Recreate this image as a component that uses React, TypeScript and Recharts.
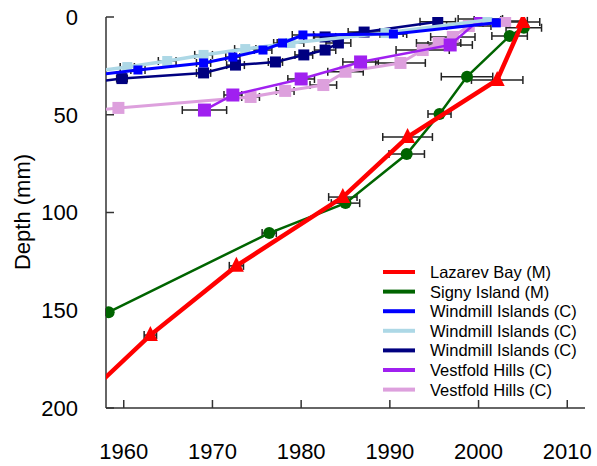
import { ScatterChart, Scatter, XAxis, YAxis, ErrorBar } from 'recharts'

const W = 597
const H = 466

// Lazarev Bay (M)
const lazarevYear = [1955, 1963.0, 1972.7, 1984.7, 1992.0, 2002.1, 2005.0]
const lazarevDepth = [197, 162.7, 127.3, 92.1, 61.4, 32.2, 2.5]
const lazarevErr = [0, 0.7, 0.8, 1.6, 2.8, 2.9, 1.9]

// Signy Island (M)
const signyYear = [1958.3, 1976.4, 1985.0, 1991.9, 1995.6, 1998.7, 2003.5, 2005.1]
const signyDepth = [151, 110.5, 95.2, 70.1, 49.6, 30.5, 9.7, 5.5]
const signyErr = [0.3, 0.8, 1.6, 2.0, 1.3, 2.9, 2.0, 2.0]

// Windmill Islands (C) - blue
const wiBlueYear = [1957, 1961.6, 1969.0, 1972.3, 1975.7, 1977.9, 1980.2, 1990.4, 2002.0]
const wiBlueDepth = [29.5, 27.1, 23.5, 20.5, 16.9, 13.3, 9.2, 8.7, 3.0]
const wiBlueErr = [0, 0.8, 0.8, 0.8, 1.0, 1.0, 1.2, 1.5, 1.5]

// Windmill Islands (C) - light blue
const wiLightYear = [1957, 1960.4, 1964.9, 1969.0, 1973.7, 1978.8, 1989.5, 2001.0]
const wiLightDepth = [27.5, 25.6, 22.5, 19.4, 16.4, 13.3, 8.2, 1.5]
const wiLightErr = [0, 0.8, 1.0, 1.0, 1.2, 1.5, 2.0, 1.5]

// Windmill Islands (C) - navy
const wiNavyYear = [1956, 1959.8, 1969.0, 1972.6, 1977.1, 1980.3, 1982.7, 1984.2, 1982.7, 1987.1, 1995.4]
const wiNavyDepth = [33.5, 31.5, 28.6, 24.6, 23.0, 19.4, 16.9, 13.3, 10.2, 7.7, 2.4]
const wiNavyErr = [0, 0.6, 0.8, 1.0, 0.8, 1.0, 1.2, 1.4, 1.2, 1.8, 2.0]

// Vestfold Hills (C) - purple
const vhPurpleYear = [1969.1, 1972.3, 1980.0, 1986.7, 1996.8, 2000.2]
const vhPurpleDepth = [47.6, 39.9, 31.7, 23.0, 14.3, 1.0]
const vhPurpleErr = [2.5, 1.0, 1.5, 2.0, 2.5, 2.5]

// Vestfold Hills (C) - plum
const vhPlumYear = [1955, 1959.4, 1974.3, 1978.2, 1982.5, 1985.0, 1991.2, 1993.7, 1995.5, 1997.1, 1998.9, 2003.0]
const vhPlumDepth = [48.5, 46.5, 40.9, 37.8, 34.8, 28.0, 23.5, 16.9, 13.3, 10.2, 4.6, 2.0]
const vhPlumErr = [0, 0.5, 1.0, 1.0, 1.5, 2.0, 2.8, 3.0, 2.5, 2.5, 2.5, 2.5]

const seriesNames = [
  'Lazarev Bay (M)',
  'Signy Island (M)',
  'Windmill Islands (C)',
  'Windmill Islands (C)',
  'Windmill Islands (C)',
  'Vestfold Hills (C)',
  'Vestfold Hills (C)',
]
const seriesColors = ['#ff0000', '#006400', '#0000ff', '#add8e6', '#000080', '#a020f0', '#dda0dd']

const xTicks = [1960, 1970, 1980, 1990, 2000, 2010]
const yTicks = [0, 50, 100, 150, 200]

const zip = (xs: number[], ys: number[], es: number[]) =>
  xs.map((x, i) => ({ x, y: ys[i], e: es[i] }))

const square = (size: number, fill: string) => (p: any) =>
  <rect x={p.cx - size / 2} y={p.cy - size / 2} width={size} height={size} fill={fill} />

const circle = (r: number, fill: string) => (p: any) => <circle cx={p.cx} cy={p.cy} r={r} fill={fill} />

const triangle = (s: number, fill: string) => (p: any) =>
  <polygon
    points={`${p.cx},${p.cy - s * 0.6} ${p.cx - s / 2},${p.cy + s * 0.4} ${p.cx + s / 2},${p.cy + s * 0.4}`}
    fill={fill}
  />

const AXIS = '#333'
const BAR = '#222'

export default function App() {
  const series = [
    { data: zip(vhPlumYear, vhPlumDepth, vhPlumErr), c: seriesColors[6], w: 3, shape: square(12, seriesColors[6]) },
    { data: zip(vhPurpleYear, vhPurpleDepth, vhPurpleErr), c: seriesColors[5], w: 2.5, shape: square(13, seriesColors[5]) },
    { data: zip(wiNavyYear, wiNavyDepth, wiNavyErr), c: seriesColors[4], w: 2.5, shape: square(11, seriesColors[4]) },
    { data: zip(wiLightYear, wiLightDepth, wiLightErr), c: seriesColors[3], w: 3.5, shape: square(10, seriesColors[3]) },
    { data: zip(wiBlueYear, wiBlueDepth, wiBlueErr), c: seriesColors[2], w: 3, shape: square(9, seriesColors[2]) },
    { data: zip(signyYear, signyDepth, signyErr), c: seriesColors[1], w: 2.5, shape: circle(6, seriesColors[1]) },
    { data: zip(lazarevYear, lazarevDepth, lazarevErr), c: seriesColors[0], w: 4.5, shape: triangle(15, seriesColors[0]) },
  ]

  return (
    <div style={{ position: 'absolute', left: 0, top: 0, width: W, height: H, background: '#fff' }}>
      <ScatterChart
        width={W}
        height={H}
        margin={{ top: 17, right: 12, bottom: 0, left: 0 }}
        style={{ fontFamily: '"Liberation Sans", Arial, sans-serif' }}
      >
        <XAxis
          dataKey="x"
          type="number"
          domain={[1958, 2012]}
          ticks={xTicks}
          allowDataOverflow
          height={58}
          tickSize={-8}
          tickMargin={43}
          tick={{ fill: '#000', fontSize: 22 }}
          axisLine={{ stroke: AXIS, strokeWidth: 1.5 }}
          tickLine={{ stroke: AXIS, strokeWidth: 1.5 }}
        />
        <XAxis
          xAxisId="top"
          orientation="top"
          type="number"
          domain={[0, 1]}
          height={0}
          tick={false}
          tickLine={false}
          axisLine={{ stroke: AXIS, strokeWidth: 1.5 }}
        />
        <YAxis
          dataKey="y"
          type="number"
          reversed
          domain={[0, 200]}
          ticks={yTicks}
          allowDataOverflow
          width={106}
          tickSize={-8}
          tickMargin={36}
          tick={{ fill: '#000', fontSize: 22 }}
          axisLine={{ stroke: AXIS, strokeWidth: 1.5 }}
          tickLine={{ stroke: AXIS, strokeWidth: 1.5 }}
        />
        <YAxis
          yAxisId="right"
          orientation="right"
          type="number"
          domain={[0, 1]}
          width={0}
          tick={false}
          tickLine={false}
          axisLine={{ stroke: AXIS, strokeWidth: 1.5 }}
        />
        {series.map((s, i) => (
          <Scatter
            key={i}
            data={s.data}
            fill={s.c}
            line={{ stroke: s.c, strokeWidth: s.w }}
            lineJointType="linear"
            shape={s.shape}
            isAnimationActive={false}
          >
            <ErrorBar dataKey="e" direction="x" width={4} stroke={BAR} strokeWidth={1.5} />
          </Scatter>
        ))}
        <text
          x={22}
          y={212}
          transform="rotate(-90 22 212)"
          textAnchor="middle"
          dominantBaseline="central"
          fontSize={22}
          fill="#000"
        >
          Depth (mm)
        </text>
        {seriesNames.map((name, i) => (
          <g key={i}>
            <line x1={383} x2={415} y1={272 + i * 19.6} y2={272 + i * 19.6} stroke={seriesColors[i]} strokeWidth={4} />
            <text x={430} y={272 + i * 19.6} dominantBaseline="central" fontSize={16.5} fill="#000">
              {name}
            </text>
          </g>
        ))}
      </ScatterChart>
    </div>
  )
}
